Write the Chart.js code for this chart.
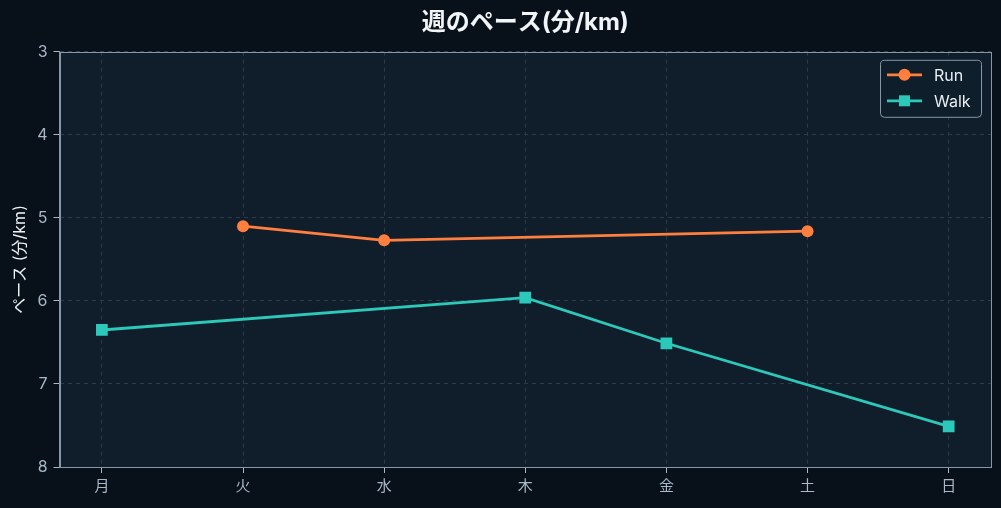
<!DOCTYPE html>
<html>
<head>
<meta charset="utf-8">
<script src="https://cdn.jsdelivr.net/npm/chart.js@4"></script>
<style>
  html, body { margin: 0; padding: 0; background: #08101a; }
  #wrap { width: 1001px; height: 508px; }
</style>
</head>
<body>
<div id="wrap"><canvas id="paceChart"></canvas></div>
<script>
// data
var days = ['月', '火', '水', '木', '金', '土', '日'];
var runPace = [null, 5.10, 5.27, null, null, 5.16, null];
var walkPace = [6.35, null, null, 5.96, 6.51, null, 7.51];
var yTicks = [3, 4, 5, 6, 7, 8];

var runColor = '#ff7f3f';
var walkColor = '#2cc9ba';
var frameColor = '#8697a7';
var fontFam = 'Inter, "Noto Sans CJK JP", sans-serif';

function toPoints(arr) {
	var pts = [];
	arr.forEach(function (v, i) {
		if (v !== null) pts.push({ x: i, y: v });
	});
	return pts;
}

// background and frame for the plot area
var areaBg = {
	id: 'areaBg',
	beforeDraw: function (chart) {
		var a = chart.chartArea, ctx = chart.ctx;
		ctx.save();
		ctx.fillStyle = '#101e2b';
		ctx.fillRect(a.left, a.top, a.right - a.left, a.bottom - a.top);
		ctx.restore();
	},
	beforeDatasetsDraw: function (chart) {
		var a = chart.chartArea, ctx = chart.ctx;
		ctx.save();
		ctx.strokeStyle = frameColor;
		ctx.lineWidth = 1;
		ctx.strokeRect(Math.round(a.left) + 0.5, Math.round(a.top) + 0.5,
			Math.round(a.right - a.left), Math.round(a.bottom - a.top));
		ctx.restore();
	}
};

// legend drawn inside the top right corner
var innerLegend = {
	id: 'innerLegend',
	afterDraw: function (chart) {
		var ctx = chart.ctx, a = chart.chartArea;
		var w = 101, h = 57;
		var x = a.right - 10 - w, y = a.top + 8;
		ctx.save();
		ctx.fillStyle = 'rgba(16,30,43,0.9)';
		ctx.strokeStyle = frameColor;
		ctx.lineWidth = 1;
		ctx.beginPath();
		ctx.roundRect(x + 0.5, y + 0.5, w, h, 4);
		ctx.fill();
		ctx.stroke();
		chart.data.datasets.forEach(function (ds, i) {
			var cy = y + 15 + i * 26;
			ctx.strokeStyle = ds.borderColor;
			ctx.lineWidth = 2.8;
			ctx.beginPath();
			ctx.moveTo(x + 7, cy);
			ctx.lineTo(x + 42, cy);
			ctx.stroke();
			ctx.fillStyle = ds.backgroundColor;
			if (ds.pointStyle === 'rect') {
				ctx.fillRect(x + 24.5 - 5.5, cy - 5.5, 11, 11);
			} else {
				ctx.beginPath();
				ctx.arc(x + 24.5, cy, 6, 0, Math.PI * 2);
				ctx.fill();
			}
			ctx.fillStyle = '#e8eef4';
			ctx.font = '16px ' + fontFam;
			ctx.textBaseline = 'middle';
			ctx.fillText(ds.label, x + 54, cy + 1);
		});
		ctx.restore();
	}
};

var ctx = document.getElementById('paceChart').getContext('2d');
var paceChart = new Chart(ctx, {
	type: 'line',
	data: {
		datasets: [{
			label: 'Run',
			data: toPoints(runPace),
			borderColor: runColor,
			backgroundColor: runColor,
			borderWidth: 2.8,
			pointStyle: 'circle',
			pointRadius: 6,
			pointHoverRadius: 6,
			pointBorderWidth: 0
		}, {
			label: 'Walk',
			data: toPoints(walkPace),
			borderColor: walkColor,
			backgroundColor: walkColor,
			borderWidth: 2.8,
			pointStyle: 'rect',
			pointRadius: 8.3,
			pointHoverRadius: 8.3,
			pointBorderWidth: 0
		}]
	},
	options: {
		responsive: true,
		maintainAspectRatio: false,
		animation: false,
		layout: { padding: { left: 11, right: 10, top: 3, bottom: 9 } },
		plugins: {
			legend: { display: false },
			tooltip: { enabled: false },
			title: {
				display: true,
				fullSize: false,
				text: '週のペース(分/km)',
				color: '#f2f5f8',
				font: { family: fontFam, size: 24, weight: 'bold' },
				padding: { top: 5, bottom: 15 }
			}
		},
		scales: {
			x: {
				type: 'linear',
				min: -0.3,
				max: 6.3,
				afterBuildTicks: function (axis) {
					axis.ticks = days.map(function (d, i) { return { value: i }; });
				},
				ticks: {
					color: '#a9b8c6',
					font: { family: fontFam, size: 15 },
					padding: 4,
					callback: function (v) { return days[v]; }
				},
				grid: {
					color: '#2b3b4b',
					tickColor: '#a9b8c6',
					tickLength: 6,
					drawTicks: true
				},
				border: { color: frameColor, dash: [4, 4], width: 1 }
			},
			y: {
				reverse: true,
				min: 3,
				max: 8,
				afterBuildTicks: function (axis) {
					axis.ticks = yTicks.map(function (v) { return { value: v }; });
				},
				ticks: {
					color: '#a9b8c6',
					font: { family: fontFam, size: 16 },
					padding: 6
				},
				grid: {
					color: '#2b3b4b',
					tickColor: '#a9b8c6',
					tickLength: 6
				},
				border: { color: frameColor, dash: [4, 4], width: 1 },
				title: {
					display: true,
					text: 'ペース (分/km)',
					color: '#eef2f6',
					font: { family: fontFam, size: 16 },
					padding: { top: 0, bottom: 1 }
				}
			}
		}
	},
	plugins: [areaBg, innerLegend]
});
</script>
</body>
</html>
